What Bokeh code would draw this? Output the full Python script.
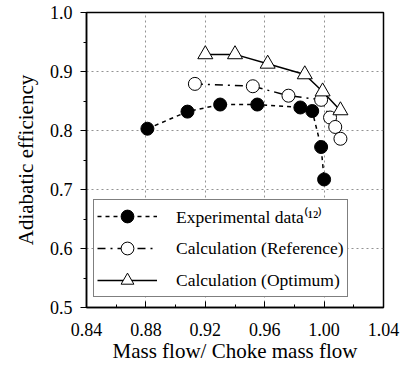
from bokeh.plotting import figure
from bokeh.models import FixedTicker, Legend, LegendItem, Range1d
from bokeh.embed import file_html
from bokeh.resources import INLINE

exp_x = [0.881, 0.908, 0.930, 0.955, 0.984, 0.992, 0.998, 1.000]
exp_y = [0.803, 0.832, 0.844, 0.844, 0.839, 0.833, 0.772, 0.717]
ref_x = [0.913, 0.952, 0.976, 0.998, 1.004, 1.0075, 1.011]
ref_y = [0.879, 0.875, 0.859, 0.852, 0.822, 0.806, 0.786]
opt_x = [0.920, 0.940, 0.962, 0.987, 0.999, 1.011]
opt_y = [0.929, 0.929, 0.913, 0.895, 0.866, 0.834]

x_ticks = [0.84, 0.88, 0.92, 0.96, 1.00, 1.04]
y_ticks = [0.5, 0.6, 0.7, 0.8, 0.9, 1.0]

FONT = "Liberation Serif"

p = figure(width=402, height=368, output_backend="svg", toolbar_location=None,
           x_range=Range1d(0.84, 1.04), y_range=Range1d(0.5, 1.0),
           min_border_left=86, min_border_right=19, min_border_top=12, min_border_bottom=61)

p.xaxis.ticker = FixedTicker(ticks=x_ticks, minor_ticks=[0.86, 0.90, 0.94, 0.98, 1.02])
p.yaxis.ticker = FixedTicker(ticks=y_ticks, minor_ticks=[0.55, 0.65, 0.75, 0.85, 0.95])
p.xaxis.major_label_overrides = {t: f"{t:.2f}" for t in x_ticks}
p.yaxis.major_label_overrides = {t: f"{t:.1f}" for t in y_ticks}

for ax in (p.xaxis[0], p.yaxis[0]):
    ax.major_label_text_font = FONT
    ax.major_label_text_font_size = "18px"
    ax.major_label_text_color = "black"
    ax.axis_label_text_font = FONT
    ax.axis_label_text_font_size = "21px"
    ax.axis_label_text_font_style = "normal"
    ax.axis_label_text_color = "black"
    ax.axis_line_color = "black"
    ax.axis_line_width = 1.5
    ax.major_tick_line_color = "black"
    ax.minor_tick_line_color = "black"

p.xaxis.axis_label = "Mass flow/ Choke mass flow"
p.yaxis.axis_label = "Adiabatic efficiency"
p.xaxis.major_tick_in = 6
p.xaxis.major_tick_out = 0
p.xaxis.minor_tick_in = 3
p.xaxis.minor_tick_out = 0
p.xaxis.major_label_standoff = 15
p.yaxis.major_tick_in = 0
p.yaxis.major_tick_out = 6
p.yaxis.minor_tick_in = 0
p.yaxis.minor_tick_out = 3
p.yaxis.major_label_standoff = 8
p.xaxis.axis_label_standoff = 0
p.yaxis.axis_label_standoff = 9

p.grid.grid_line_color = "#777777"
p.grid.grid_line_dash = "2 3"
p.grid.grid_line_width = 0.8

p.outline_line_color = "black"
p.outline_line_width = 1.5

l1 = p.line(exp_x, exp_y, line_color="black", line_dash="4 4", line_width=1.5)
s1 = p.scatter(exp_x, exp_y, marker="circle", size=13, fill_color="black", line_color="black")
l2 = p.line(ref_x, ref_y, line_color="black", line_dash="8 5 2 5", line_width=1.5)
s2 = p.scatter(ref_x, ref_y, marker="circle", size=13, fill_color="white", line_color="black", line_width=1)
l3 = p.line(opt_x, opt_y, line_color="black", line_width=1.5)
s3 = p.scatter(opt_x, opt_y, marker="triangle", size=15, fill_color="white", line_color="black", line_width=1)

legend = Legend(items=[
    LegendItem(label="Experimental data\u207d\u00b9\u00b2\u207e", renderers=[l1, s1]),
    LegendItem(label="Calculation (Reference)", renderers=[l2, s2]),
    LegendItem(label="Calculation (Optimum)", renderers=[l3, s3]),
], location=(7, 10))
legend.label_text_font = FONT
legend.label_text_font_size = "17.5px"
legend.label_text_color = "black"
legend.glyph_width = 60
legend.glyph_height = 32
legend.label_standoff = 19
legend.spacing = 0
legend.padding = (3, 0)
legend.border_line_color = "black"
legend.border_line_width = 1.2
legend.background_fill_alpha = 1
p.add_layout(legend, "center")

open("out.html", "w").write(file_html(p, INLINE))
